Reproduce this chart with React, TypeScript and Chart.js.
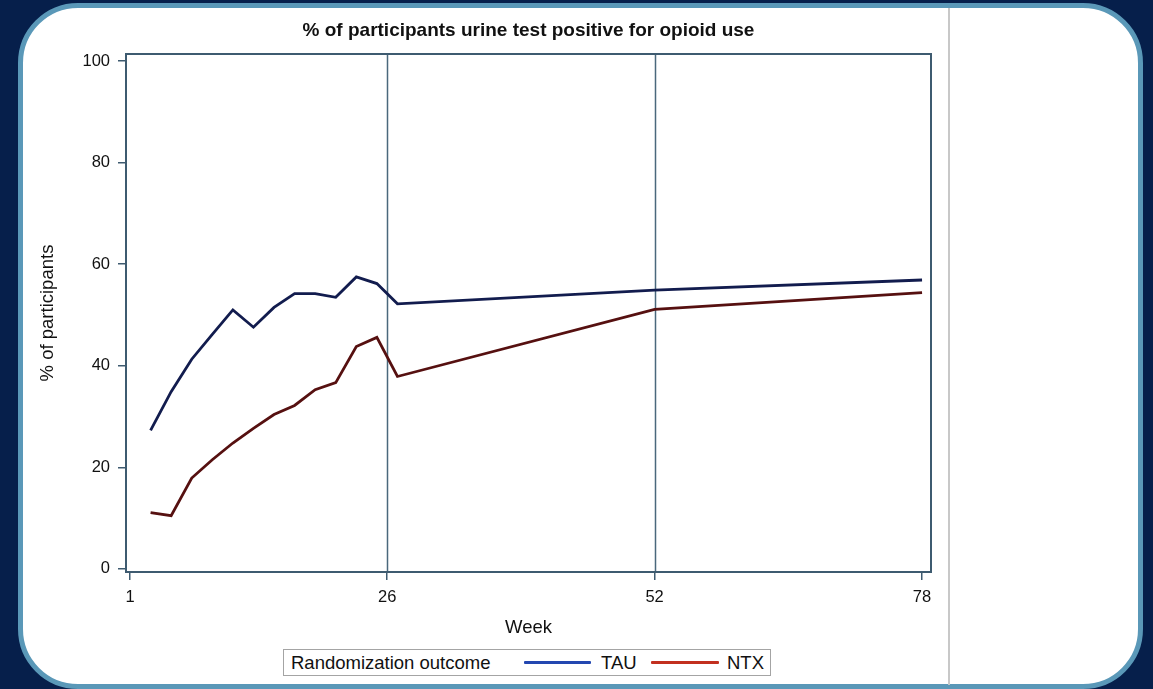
import React, { useEffect, useRef } from "react";
import { Chart, registerables } from "chart.js";

Chart.register(...registerables);

const weeks = [3, 5, 7, 9, 11, 13, 15, 17, 19, 21, 23, 25, 27, 52, 78];
const tauValues = [27.3, 34.9, 41.3, 46.2, 51.0, 47.6, 51.5, 54.2, 54.2, 53.5, 57.5, 56.2, 52.2, 54.9, 56.9];
const ntxValues = [11.1, 10.5, 17.9, 21.5, 24.8, 27.7, 30.4, 32.2, 35.3, 36.7, 43.8, 45.6, 37.9, 51.1, 54.4];
const xTicks = [1, 26, 52, 78];
const yTicks = [0, 20, 40, 60, 80, 100];
const refLines = [26, 52];

const FONT = "'Liberation Sans', Arial, sans-serif";
const FRAME = "#3e5b70";

const framePlugin = {
  id: "framePlugin",
  beforeDatasetsDraw(chart: any) {
    const { ctx, chartArea, scales } = chart;
    ctx.save();
    ctx.strokeStyle = "#4a687c";
    ctx.lineWidth = 1.5;
    refLines.forEach((w) => {
      const x = Math.round(scales.x.getPixelForValue(w)) + 0.5;
      ctx.beginPath();
      ctx.moveTo(x, chartArea.top);
      ctx.lineTo(x, chartArea.bottom);
      ctx.stroke();
    });
    ctx.restore();
  },
  afterDraw(chart: any) {
    const { ctx, chartArea } = chart;
    ctx.save();
    ctx.strokeStyle = FRAME;
    ctx.lineWidth = 2;
    ctx.strokeRect(chartArea.left, chartArea.top, chartArea.right - chartArea.left, chartArea.bottom - chartArea.top);
    ctx.restore();
  },
};

export default function App() {
  const ref = useRef<HTMLCanvasElement | null>(null);

  useEffect(() => {
    if (!ref.current) return;
    const chart = new Chart(ref.current, {
      type: "line",
      data: {
        datasets: [
          {
            label: "TAU",
            data: weeks.map((w, i) => ({ x: w, y: tauValues[i] })),
            borderColor: "#121c4e",
            borderWidth: 2.8,
            pointRadius: 0,
            tension: 0,
          },
          {
            label: "NTX",
            data: weeks.map((w, i) => ({ x: w, y: ntxValues[i] })),
            borderColor: "#561010",
            borderWidth: 2.8,
            pointRadius: 0,
            tension: 0,
          },
        ],
      },
      options: {
        responsive: false,
        animation: false,
        layout: { padding: { left: 0, top: 0, right: 222, bottom: 45.9 } },
        plugins: {
          legend: { display: false },
          tooltip: { enabled: false },
          title: {
            display: true,
            text: "% of participants urine test positive for opioid use",
            fullSize: false,
            color: "#111",
            font: { family: FONT, size: 19, weight: "bold" },
            padding: { top: 19.6, bottom: 11.6 },
          },
        },
        scales: {
          x: {
            type: "linear",
            min: 0.61,
            max: 78.87,
            afterBuildTicks: (axis: any) => {
              axis.ticks = xTicks.map((v) => ({ value: v }));
            },
            afterFit: (axis: any) => {
              axis.height = 71.1;
            },
            grid: { drawOnChartArea: false, drawTicks: true, tickLength: 8, color: FRAME, lineWidth: 1.5 },
            border: { display: true, color: FRAME, width: 2 },
            ticks: { color: "#111", font: { family: FONT, size: 16.5 }, padding: 8, autoSkip: false, maxRotation: 0 },
            title: {
              display: true,
              text: "Week",
              color: "#111",
              font: { family: FONT, size: 18.5 },
              padding: { top: 0, bottom: 4 },
            },
          },
          y: {
            type: "linear",
            min: -0.6,
            max: 101.4,
            afterBuildTicks: (axis: any) => {
              axis.ticks = yTicks.map((v) => ({ value: v }));
            },
            afterFit: (axis: any) => {
              axis.width = 126;
            },
            grid: { drawOnChartArea: false, drawTicks: true, tickLength: 8, color: FRAME, lineWidth: 1.5 },
            border: { display: true, color: FRAME, width: 2 },
            ticks: { color: "#111", font: { family: FONT, size: 16.5 }, padding: 8 },
            title: {
              display: true,
              text: "% of participants",
              color: "#111",
              font: { family: FONT, size: 18.5 },
              padding: { top: 37, bottom: 0 },
            },
          },
        },
      },
      plugins: [framePlugin],
    } as any);
    return () => chart.destroy();
  }, []);

  const legendText: React.CSSProperties = {
    position: "absolute",
    top: 0,
    height: 25,
    lineHeight: "25px",
    fontFamily: FONT,
    fontSize: 18.5,
    color: "#111",
    whiteSpace: "nowrap",
  };
  const legendLine = (left: number, width: number, color: string): React.CSSProperties => ({
    position: "absolute",
    left,
    width,
    top: 11,
    height: 3,
    background: color,
    borderRadius: 1,
  });

  return (
    <div style={{ position: "fixed", left: 0, top: 0, width: 1153, height: 689, background: "#061f4b", overflow: "hidden" }}>
      <div
        style={{
          position: "absolute",
          left: 18,
          top: 3,
          width: 1125,
          height: 686,
          boxSizing: "border-box",
          border: "5.5px solid #5a98b8",
          borderRadius: 60,
          background: "#ffffff",
        }}
      />
      <div style={{ position: "absolute", left: 948, top: 8, width: 1.5, height: 677, background: "#c8c8c8" }} />
      <canvas ref={ref} width={1153} height={689} style={{ position: "absolute", left: 0, top: 0, width: 1153, height: 689 }} />
      <div
        style={{
          position: "absolute",
          left: 283,
          top: 649,
          width: 488,
          height: 27,
          boxSizing: "border-box",
          border: "1px solid #a4a4a4",
          background: "#fff",
        }}
      >
        <span style={{ ...legendText, left: 7 }}>Randomization outcome</span>
        <div style={legendLine(240, 67, "#2347b0")} />
        <span style={{ ...legendText, left: 317 }}>TAU</span>
        <div style={legendLine(367, 68, "#c2301f")} />
        <span style={{ ...legendText, left: 443 }}>NTX</span>
      </div>
    </div>
  );
}
